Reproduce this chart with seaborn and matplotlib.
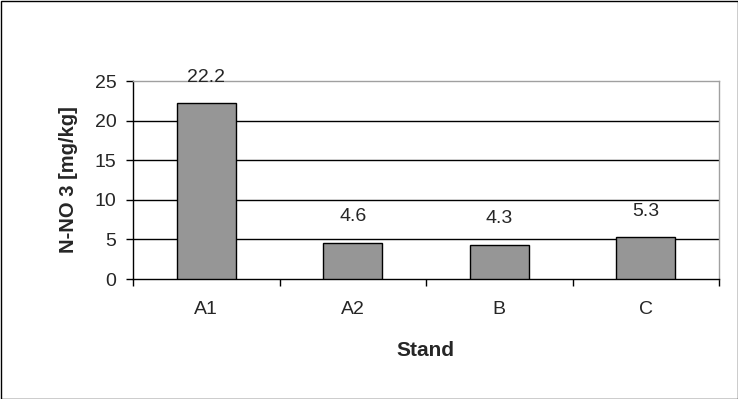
import numpy as np
import pandas as pd
import matplotlib
matplotlib.use("Agg")
import matplotlib.pyplot as plt
import seaborn as sns
from matplotlib.patches import Rectangle

# data
stands = ["A1", "A2", "B", "C"]
nitrate = [22.2, 4.6, 4.3, 5.3]
labels = ["22.2", "4.6", "4.3", "5.3"]
yticks = [0, 5, 10, 15, 20, 25]

df = pd.DataFrame({"Stand": stands, "N": nitrate})

sns.set_style("white")
plt.rcParams["font.family"] = ["Liberation Sans", "DejaVu Sans"]

fig = plt.figure(figsize=(7.38, 3.99), dpi=100)
ax = fig.add_axes([133 / 738, 1 - 279 / 399, 586 / 738, 198 / 399])

sns.barplot(data=df, x="Stand", y="N", color="#969696", width=0.4,
            edgecolor="black", linewidth=1, saturation=1, ax=ax, zorder=3)

ax.set_ylim(0, 25)
ax.set_xlim(-0.5, 3.5)
ax.set_yticks(yticks)
ax.set_yticklabels([str(t) for t in yticks], fontsize=14)

# gridlines (top one is the gray plot border)
for t in yticks[1:-1]:
    ax.axhline(t, color="black", lw=1, zorder=1)

for side in ["top", "right"]:
    ax.spines[side].set_color("#a0a0a0")
    ax.spines[side].set_linewidth(1)
for side in ["left", "bottom"]:
    ax.spines[side].set_color("black")
    ax.spines[side].set_linewidth(1)

ax.tick_params(axis="y", direction="out", length=5, width=1, color="black",
               pad=7, left=True)
ax.set_xticks(range(len(stands)))
ax.set_xticklabels(stands, fontsize=14)
ax.set_xticks(np.arange(-0.5, len(stands), 1), minor=True)
ax.tick_params(axis="x", which="major", length=0, pad=16)
ax.tick_params(axis="x", which="minor", direction="out", length=5,
               width=1, color="black", bottom=True)

ax.set_xlabel("")
ax.set_ylabel("")

for i, (v, lab) in enumerate(zip(nitrate, labels)):
    ax.annotate(lab, (i, v), xytext=(0, 26), textcoords="offset pixels",
                ha="center", va="center", fontsize=14, zorder=5)

fig.text(68 / 738, 1 - 180 / 399, "N-NO 3 [mg/kg]", rotation=90,
         ha="center", va="center", fontsize=14.5, fontweight="bold")
fig.text(425 / 738, 1 - 350 / 399, "Stand", ha="center", va="center",
         fontsize=15, fontweight="bold")

fig.patches.append(Rectangle((0.5 / 738, 0.5 / 399), 737 / 738, 398 / 399,
                             transform=fig.transFigure, fill=False,
                             edgecolor="black", lw=1))

fig.savefig("out.png", dpi=100)
